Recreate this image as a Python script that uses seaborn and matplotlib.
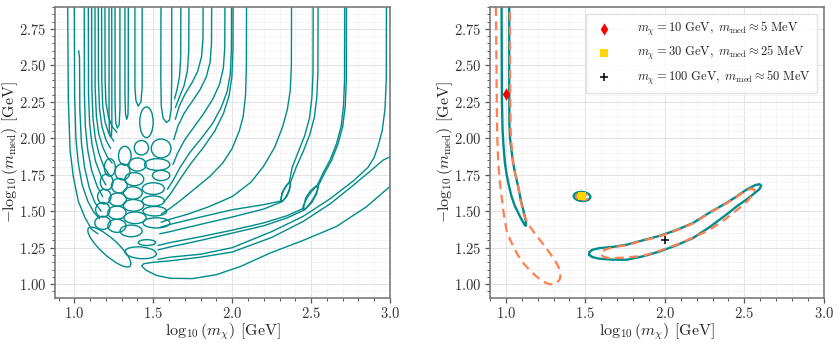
import matplotlib
matplotlib.use("Agg")
import matplotlib.pyplot as plt
from matplotlib.patches import Ellipse
from matplotlib.ticker import MultipleLocator, AutoMinorLocator
import pandas as pd
import seaborn as sns

TEAL = "#008b8b"
CORAL = "#ff7f50"

# ---------------- left panel: traced contour curves (log10 GeV units) ----------------
left_fan = [
    [(0.958, 2.9), (0.962, 2.27), (0.973, 1.92), (0.994, 1.735), (1.025, 1.57), (1.068, 1.455), (1.11, 1.375), (1.15, 1.345)],
    [(1.0, 2.9), (1.002, 2.3), (1.01, 2.0), (1.025, 1.83), (1.05, 1.68), (1.085, 1.57), (1.125, 1.49), (1.16, 1.45)],
    [(1.028, 2.6), (1.033, 2.55), (1.035, 2.2), (1.045, 1.97), (1.065, 1.8), (1.095, 1.66), (1.13, 1.56), (1.17, 1.5)],
    [(1.063, 2.9), (1.064, 2.3), (1.07, 2.08), (1.085, 1.92), (1.11, 1.78), (1.145, 1.67), (1.18, 1.6)],
    [(1.089, 2.9), (1.09, 2.3), (1.097, 2.1), (1.112, 1.96), (1.135, 1.84), (1.17, 1.74), (1.2, 1.68)],
    [(1.11, 2.9), (1.111, 2.35), (1.118, 2.14), (1.133, 2.0), (1.155, 1.9), (1.185, 1.81), (1.215, 1.76)],
    [(1.131, 2.9), (1.132, 2.35), (1.14, 2.15), (1.155, 2.03), (1.18, 1.94), (1.21, 1.87), (1.24, 1.83)],
    [(1.152, 2.9), (1.153, 2.4), (1.16, 2.2), (1.175, 2.08), (1.2, 1.99), (1.23, 1.93)],
    [(1.173, 2.9), (1.174, 2.4), (1.18, 2.22), (1.195, 2.11), (1.22, 2.03), (1.25, 1.98)],
    [(1.194, 2.9), (1.195, 2.4), (1.2, 2.25), (1.215, 2.15), (1.24, 2.08), (1.27, 2.04)],
    [(1.22, 2.9), (1.22, 2.2), (1.222, 2.06), (1.228, 2.01), (1.236, 2.02), (1.238, 2.1), (1.237, 2.9)],
    [(1.258, 2.9), (1.258, 2.25), (1.262, 2.11), (1.272, 2.07), (1.284, 2.09), (1.289, 2.2), (1.289, 2.9)],
    [(1.321, 2.9), (1.321, 2.3), (1.324, 2.17), (1.332, 2.13), (1.34, 2.16), (1.342, 2.3), (1.342, 2.9)],
    [(1.384, 2.9), (1.384, 2.35), (1.39, 2.26), (1.405, 2.22), (1.422, 2.25), (1.43, 2.35), (1.43, 2.9)],
]

right_fan = [
    [(2.977, 2.9), (2.976, 2.4), (2.968, 2.2), (2.95, 2.05), (2.925, 1.95), (2.9, 1.87), (2.86, 1.8), (2.77, 1.71),
     (2.62, 1.585), (2.45, 1.465), (2.25, 1.36), (2.0, 1.25), (1.8, 1.205), (1.607, 1.185), (1.53, 1.17)],
    [(2.724, 2.9), (2.723, 2.4), (2.716, 2.22), (2.7, 2.08), (2.67, 1.96), (2.63, 1.85), (2.585, 1.76), (2.548, 1.68),
     (2.535, 1.62), (2.505, 1.56), (2.46, 1.51), (2.35, 1.455), (2.2, 1.4), (2.0, 1.35), (1.8, 1.3), (1.607, 1.255), (1.53, 1.235)],
    [(2.713, 2.9), (2.712, 2.4), (2.705, 2.22), (2.69, 2.08), (2.66, 1.96), (2.62, 1.85), (2.575, 1.76), (2.54, 1.68),
     (2.495, 1.64), (2.465, 1.59), (2.452, 1.52), (2.35, 1.47), (2.2, 1.42), (2.0, 1.37), (1.8, 1.325), (1.607, 1.285), (1.53, 1.265)],
    [(2.544, 2.9), (2.543, 2.45), (2.536, 2.28), (2.52, 2.14), (2.49, 2.02), (2.45, 1.91), (2.405, 1.8), (2.37, 1.7),
     (2.362, 1.64), (2.345, 1.6), (2.315, 1.565), (2.2, 1.515), (2.0, 1.46), (1.8, 1.41), (1.607, 1.36), (1.54, 1.345)],
    [(2.513, 2.9), (2.512, 2.45), (2.505, 2.28), (2.49, 2.14), (2.46, 2.02), (2.42, 1.91), (2.38, 1.8), (2.362, 1.7),
     (2.335, 1.665), (2.315, 1.625), (2.31, 1.57), (2.2, 1.545), (2.0, 1.51), (1.8, 1.46), (1.607, 1.41), (1.545, 1.39)],
    [(2.376, 2.9), (2.375, 2.5), (2.368, 2.33), (2.35, 2.2), (2.32, 2.08), (2.27, 1.94), (2.2, 1.81), (2.12, 1.7),
     (2.0, 1.6), (1.85, 1.53), (1.72, 1.48), (1.607, 1.445), (1.55, 1.425)],
    [(2.091, 2.9), (2.09, 2.5), (2.085, 2.3), (2.07, 2.15), (2.045, 2.05), (2.0, 1.93), (1.94, 1.83), (1.86, 1.74),
     (1.77, 1.66), (1.68, 1.58), (1.607, 1.52), (1.55, 1.48)],
    [(2.006, 2.9), (2.005, 2.6), (1.998, 2.42), (1.98, 2.29), (1.945, 2.17), (1.89, 2.05), (1.82, 1.94), (1.74, 1.83),
     (1.67, 1.72), (1.61, 1.62), (1.565, 1.56)],
    [(1.996, 2.9), (1.995, 2.6), (1.988, 2.44), (1.968, 2.32), (1.93, 2.21), (1.875, 2.1), (1.805, 2.0), (1.73, 1.9),
     (1.67, 1.8), (1.625, 1.71), (1.59, 1.65)],
    [(1.954, 2.9), (1.953, 2.62), (1.944, 2.48), (1.92, 2.37), (1.878, 2.27), (1.82, 2.17), (1.76, 2.08), (1.7, 1.99),
     (1.655, 1.9), (1.625, 1.82)],
    [(1.87, 2.9), (1.869, 2.65), (1.86, 2.52), (1.836, 2.42), (1.795, 2.33), (1.745, 2.25), (1.695, 2.17), (1.655, 2.08), (1.63, 1.99)],
    [(1.816, 2.9), (1.815, 2.68), (1.806, 2.56), (1.782, 2.46), (1.745, 2.38), (1.7, 2.3), (1.665, 2.22), (1.64, 2.13)],
    [(1.726, 2.9), (1.725, 2.6), (1.716, 2.46), (1.695, 2.36), (1.665, 2.28), (1.64, 2.21)],
    [(1.675, 2.9), (1.674, 2.55), (1.666, 2.42), (1.65, 2.33), (1.635, 2.27)],
    [(1.549, 2.9), (1.548, 2.4), (1.551, 2.22), (1.562, 2.14), (1.583, 2.108), (1.603, 2.125), (1.614, 2.2), (1.617, 2.4), (1.617, 2.9)],
]

bottom_loop = [
    [(1.607, 1.04), (1.52, 1.06), (1.455, 1.095), (1.426, 1.125), (1.44, 1.14), (1.5, 1.15), (1.607, 1.16),
     (1.8, 1.185), (2.0, 1.22), (2.25, 1.32), (2.45, 1.43), (2.62, 1.55), (2.77, 1.68), (2.88, 1.78),
     (2.956, 1.85), (2.99, 1.868), (3.0, 1.872)],
    [(1.607, 1.04), (1.75, 1.038), (1.9, 1.065), (2.05, 1.12), (2.24, 1.213), (2.45, 1.3), (2.66, 1.395),
     (2.85, 1.53), (3.0, 1.67)],
]

# closed islands: centre x, centre y, width, height, angle
isl_x = [1.55, 1.525, 1.55, 1.5, 1.5, 1.51, 1.52, 1.46, 1.42, 1.457,
         1.425, 1.40, 1.38, 1.37, 1.375, 1.385, 1.36,
         1.32, 1.305, 1.285, 1.275, 1.27, 1.27,
         1.225, 1.205, 1.19, 1.18, 1.18, 1.222,
         2.495, 2.338]
isl_y = [1.93, 1.82, 1.745, 1.655, 1.57, 1.5, 1.42, 1.285, 1.215, 2.11,
         1.935, 1.82, 1.72, 1.625, 1.54, 1.455, 1.365,
         1.88, 1.77, 1.675, 1.58, 1.49, 1.4,
         1.8, 1.7, 1.6, 1.51, 1.42, 1.254,
         1.59, 1.63]
isl_w = [0.125, 0.16, 0.11, 0.14, 0.14, 0.15, 0.17, 0.11, 0.2, 0.085,
         0.09, 0.11, 0.12, 0.12, 0.13, 0.14, 0.14,
         0.08, 0.095, 0.1, 0.11, 0.115, 0.115,
         0.07, 0.08, 0.085, 0.09, 0.1, 0.37,
         0.18, 0.14]
isl_h = [0.13, 0.08, 0.07, 0.08, 0.07, 0.065, 0.07, 0.04, 0.08, 0.21,
         0.1, 0.09, 0.09, 0.085, 0.08, 0.08, 0.08,
         0.13, 0.11, 0.1, 0.09, 0.09, 0.09,
         0.12, 0.11, 0.1, 0.1, 0.09, 0.11,
         0.035, 0.03]
isl_a = [0, 0, 0, 0, 0, 0, 0, 0, -5, 0,
         0, 0, 0, 0, 0, 0, 0,
         0, 0, 0, 0, 0, 0,
         0, 0, 0, 0, 0, -45,
         60, 67]

# ---------------- right panel: traced contours ----------------
teal_left = [(0.973, 2.9), (0.975, 2.27), (0.979, 2.06), (0.985, 1.95), (0.994, 1.83), (1.005, 1.75), (1.02, 1.67),
             (1.036, 1.6), (1.055, 1.54), (1.077, 1.49), (1.1, 1.44), (1.119, 1.405), (1.125, 1.4), (1.126, 1.43),
             (1.118, 1.47), (1.109, 1.51), (1.095, 1.57), (1.077, 1.67), (1.06, 1.75), (1.046, 1.83), (1.035, 1.92),
             (1.026, 2.0), (1.022, 2.1), (1.021, 2.5), (1.021, 2.9)]
coral_left = [(0.937, 2.9), (0.941, 2.5), (0.943, 2.2), (0.946, 2.0), (0.952, 1.83), (0.96, 1.72), (0.973, 1.6),
              (0.987, 1.48), (1.004, 1.37), (1.025, 1.31), (1.046, 1.26), (1.075, 1.2), (1.109, 1.144), (1.15, 1.095),
              (1.193, 1.052), (1.23, 1.02), (1.266, 1.002), (1.295, 0.998), (1.318, 1.007), (1.338, 1.03),
              (1.343, 1.06), (1.334, 1.11), (1.31, 1.16), (1.276, 1.213), (1.245, 1.26), (1.213, 1.304),
              (1.18, 1.35), (1.151, 1.395), (1.128, 1.44), (1.109, 1.487), (1.092, 1.58), (1.077, 1.67),
              (1.06, 1.75), (1.046, 1.83), (1.036, 1.95), (1.03, 2.06), (1.027, 2.3), (1.025, 2.9)]
teal_banana = [(1.523, 1.201), (1.545, 1.185), (1.59, 1.174), (1.67, 1.168), (1.758, 1.167), (1.86, 1.19),
               (1.967, 1.224), (2.07, 1.265), (2.177, 1.316), (2.28, 1.39), (2.386, 1.476), (2.46, 1.54),
               (2.512, 1.579), (2.56, 1.62), (2.595, 1.652), (2.606, 1.675), (2.595, 1.685), (2.57, 1.68),
               (2.512, 1.647), (2.45, 1.6), (2.386, 1.556), (2.28, 1.49), (2.177, 1.419), (2.07, 1.37),
               (1.967, 1.331), (1.86, 1.3), (1.758, 1.27), (1.67, 1.255), (1.59, 1.247), (1.545, 1.236),
               (1.525, 1.22), (1.523, 1.201)]
coral_banana = [(1.6, 1.2), (1.62, 1.185), (1.653, 1.178), (1.75, 1.182), (1.862, 1.194), (1.97, 1.23),
                (2.072, 1.27), (2.18, 1.32), (2.281, 1.373), (2.38, 1.445), (2.469, 1.522), (2.52, 1.57),
                (2.552, 1.613), (2.563, 1.647), (2.545, 1.655), (2.512, 1.642), (2.45, 1.597), (2.386, 1.553),
                (2.28, 1.487), (2.177, 1.416), (2.07, 1.367), (1.967, 1.328), (1.86, 1.297), (1.758, 1.267),
                (1.67, 1.252), (1.62, 1.235), (1.6, 1.2)]
# small island around the 30 GeV point: centre, width, height
blob_teal = (1.479, 1.601, 0.105, 0.062)
blob_coral = (1.481, 1.6, 0.082, 0.044)

bench_mchi = [1.0, 1.477, 2.0]          # log10(m_chi / GeV)
bench_mmed = [2.301, 1.602, 1.301]      # -log10(m_med / GeV)
bench_label = [r"$m_\chi = 10\ \mathrm{GeV},\ m_\mathrm{med} \approx 5\ \mathrm{MeV}$",
               r"$m_\chi = 30\ \mathrm{GeV},\ m_\mathrm{med} \approx 25\ \mathrm{MeV}$",
               r"$m_\chi = 100\ \mathrm{GeV},\ m_\mathrm{med} \approx 50\ \mathrm{MeV}$"]
bench_marker = ["d", "s", "+"]
bench_color = ["red", "gold", "black"]
bench_size = [40, 40, 40]

##########################################################################################

sns.set_theme(style="ticks")
plt.rcParams.update({
    "font.family": "serif",
    "font.serif": ["cmr10"],
    "mathtext.fontset": "cm",
    "axes.formatter.use_mathtext": True,
    "axes.unicode_minus": False,
    "axes.edgecolor": "#7a7a7a",
    "axes.linewidth": 1.2,
    "xtick.color": "#555555",
    "ytick.color": "#555555",
    "xtick.labelcolor": "#333333",
    "ytick.labelcolor": "#333333",
})


def curves_frame(curves):
    rows = []
    for i, c in enumerate(curves):
        for k, (x, y) in enumerate(c):
            rows.append((i, k, x, y))
    return pd.DataFrame(rows, columns=["curve", "k", "x", "y"])


def draw(ax, curves, **kw):
    df = curves_frame(curves)
    sns.lineplot(data=df, x="x", y="y", units="curve", estimator=None, sort=False,
                 legend=False, ax=ax, **kw)


def style(ax, xlo):
    ax.set_xlim(xlo, 3.0)
    ax.set_ylim(0.905, 2.9)
    ax.xaxis.set_major_locator(MultipleLocator(0.5))
    ax.yaxis.set_major_locator(MultipleLocator(0.25))
    ax.xaxis.set_minor_locator(AutoMinorLocator(5))
    ax.yaxis.set_minor_locator(AutoMinorLocator(5))
    ax.grid(which="major", color="#e4e4e4", lw=0.8)
    ax.grid(which="minor", color="#f3f3f3", lw=0.6)
    ax.set_axisbelow(True)
    ax.tick_params(which="major", length=3.5, width=0.9, labelsize=10.5, pad=2.5)
    ax.tick_params(which="minor", length=2, width=0.7)
    ax.set_xlabel(r"$\log_{10}(m_\chi)$ [GeV]", fontsize=11.5, labelpad=0)
    ax.set_ylabel(r"$-\log_{10}(m_\mathrm{med})$ [GeV]", fontsize=11.5)
    ax.yaxis.set_label_coords(-0.104, 0.5)


fig = plt.figure(figsize=(8.39, 3.44), dpi=100)
ax1 = fig.add_axes([0.0656, 0.1337, 0.3993, 0.846])
ax2 = fig.add_axes([0.584, 0.1337, 0.398, 0.846])

# left panel
draw(ax1, left_fan, color=TEAL, lw=1.0)
draw(ax1, right_fan, color=TEAL, lw=1.0)
draw(ax1, bottom_loop, color=TEAL, lw=1.0)
for x, y, w, h, a in zip(isl_x, isl_y, isl_w, isl_h, isl_a):
    ax1.add_patch(Ellipse((x, y), w, h, angle=a, fill=False, ec=TEAL, lw=1.0))
style(ax1, 0.878)

# right panel
draw(ax2, [teal_left, teal_banana], color=TEAL, lw=1.7)
draw(ax2, [coral_left, coral_banana], color=CORAL, lw=1.6, linestyle=(0, (4, 2.5)))
ax2.add_patch(Ellipse(blob_teal[:2], blob_teal[2], blob_teal[3], angle=-5, fill=False, ec=TEAL, lw=1.7))
ax2.add_patch(Ellipse(blob_coral[:2], blob_coral[2], blob_coral[3], angle=-5, fill=False, ec=CORAL, lw=1.5,
                      ls=(0, (3, 2))))
bench = pd.DataFrame({"x": bench_mchi, "y": bench_mmed, "label": bench_label})
for i in range(3):
    sns.scatterplot(data=bench.iloc[[i]], x="x", y="y", marker=bench_marker[i], color=bench_color[i],
                    s=bench_size[i], linewidth=0 if i < 2 else 1.1, edgecolor=bench_color[i] if i < 2 else None,
                    label=bench_label[i], ax=ax2, zorder=5)
style(ax2, 0.9)
ax2.legend(loc="upper right", fontsize=9, frameon=True, framealpha=0.85, edgecolor="#dddddd",
           borderaxespad=0.55, handletextpad=1.6, labelspacing=0.5, borderpad=0.5)

fig.savefig("out.png", dpi=100)
